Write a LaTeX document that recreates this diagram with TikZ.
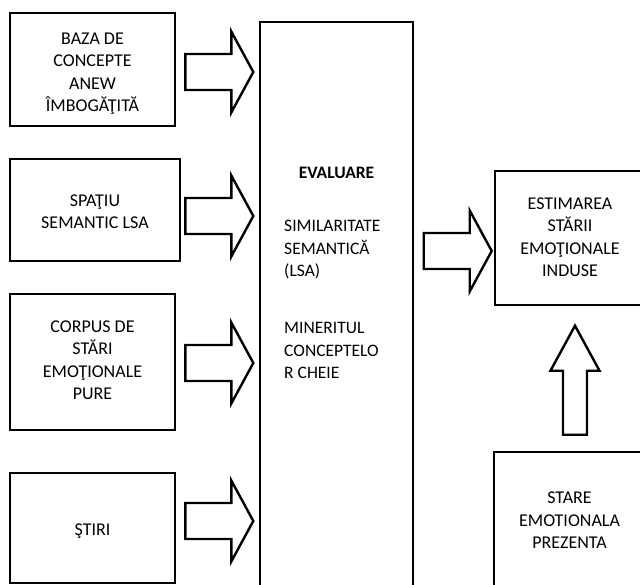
\documentclass[tikz,border=0pt]{standalone}
\usepackage{fontspec}
\setmainfont{Carlito}
\usetikzlibrary{positioning,calc}

\begin{document}
\begin{tikzpicture}[x=1pt,y=-1pt,
			box/.style={draw=black, line width=2.6pt, inner sep=0pt},
			txt/.style={align=center, anchor=base, font=\fontsize{18}{22.5}\selectfont},
			ltxt/.style={align=left, anchor=base west, font=\fontsize{17.5}{22.5}\selectfont},
			arr/.style={draw=black, line width=2.4pt, line join=miter},
			rarrow/.pic={\draw[arr] (0,-18) -- (46,-18) -- (46,-40.5) -- (68,0) -- (46,40.5) -- (46,18) -- (0,18) -- cycle;},
			uarrow/.pic={\draw[arr] (-12,0) -- (-12,-64) -- (-24.5,-64) -- (0,-109) -- (24.5,-64) -- (12,-64) -- (12,0) -- cycle;}]
		\useasboundingbox (0,0) rectangle (640,585);
		\clip (0,0) rectangle (640,585);
		% surse
		\path 	(92.5,69.5) 	node 	(b0) [box, minimum width=165pt, minimum height=113pt, label={[txt, yshift=-100pt]north:{BAZA DE\\CONCEPTE\\ANEW\\ÎMBOGĂŢITĂ}} ] {}
		        (95,210) 	node 	(b1) [box, minimum width=170pt, minimum height=102pt, label={[txt, yshift=-71pt]north:{SPAŢIU\\SEMANTIC LSA}} ] {}
		        (92.5,362) 	node 	(b2) [box, minimum width=165pt, minimum height=136pt, label={[txt, yshift=-107pt]north:{CORPUS DE\\STĂRI\\EMOŢIONALE\\PURE}} ] {}
		        (92.5,528) 	node 	(b3) [box, minimum width=165pt, minimum height=110pt, label={[txt, yshift=-64pt]north:{ŞTIRI}} ] {};
		% evaluare
		\path 	(336.5,311) 	node 	(ev) [box, minimum width=153pt, minimum height=578pt,
		            label={[txt, font=\fontsize{17.5}{22}\selectfont\bfseries, yshift=-158pt]north:{EVALUARE}},
		            label={[ltxt, xshift=22pt, yshift=-256pt]north west:{SIMILARITATE\\SEMANTICĂ\\(LSA)}},
		            label={[ltxt, xshift=22pt, yshift=-358pt]north west:{MINERITUL\\CONCEPTELO\\R CHEIE}} ] {};
		% iesiri
		\path 	(570,238) 	node 	(est) [box, minimum width=150pt, minimum height=134pt, label={[txt, yshift=-107pt]north:{ESTIMAREA\\STĂRII\\EMOŢIONALE\\INDUSE}} ] {}
		        (569.5,536) 	node 	(st) [box, minimum width=151pt, minimum height=168pt, label={[txt, yshift=-98pt]north:{STARE\\EMOTIONALA\\PREZENTA}} ] {};
		% sageti
		\path ($(b0.east)+(9,2.5)$) pic {rarrow};
		\path ($(b1.east)+(4,6)$) pic {rarrow};
		\path ($(b2.east)+(9,1)$) pic {rarrow};
		\path ($(b3.east)+(9,-7)$) pic {rarrow};
		\path ($(est.west)+(-70,13)$) pic {rarrow};
		\path ($(st.north)+(5.5,-16)$) pic {uarrow};
	\end{tikzpicture}
\end{document}
